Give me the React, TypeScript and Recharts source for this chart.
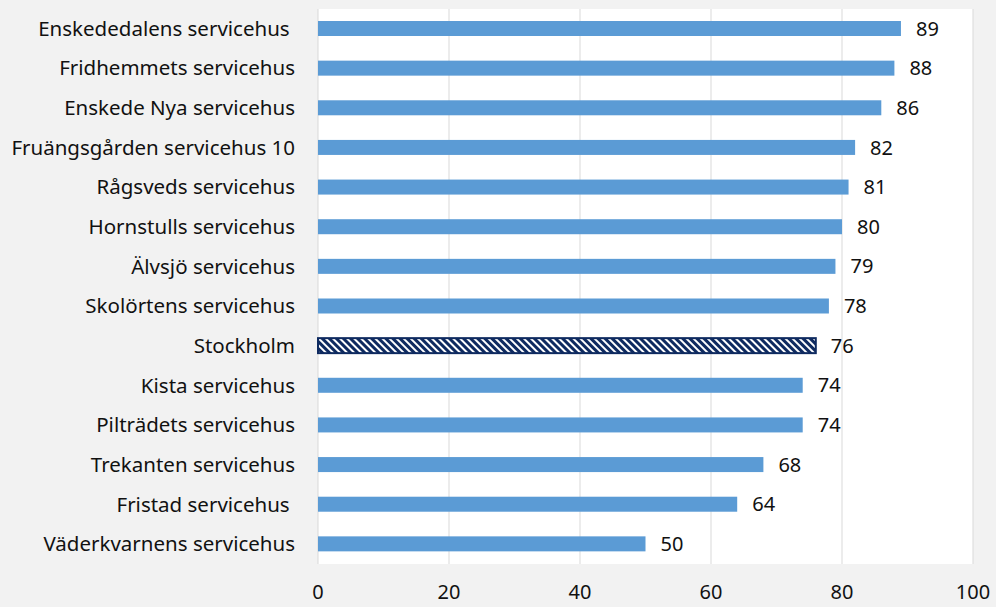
import { BarChart, Bar, XAxis, YAxis, CartesianGrid, LabelList, Cell } from "recharts";

const names = [
  "Enskededalens servicehus ",
  "Fridhemmets servicehus",
  "Enskede Nya servicehus",
  "Fruängsgården servicehus 10",
  "Rågsveds servicehus",
  "Hornstulls servicehus",
  "Älvsjö servicehus",
  "Skolörtens servicehus",
  "Stockholm",
  "Kista servicehus",
  "Pilträdets servicehus",
  "Trekanten servicehus",
  "Fristad servicehus ",
  "Väderkvarnens servicehus",
];
const values = [89, 88, 86, 82, 81, 80, 79, 78, 76, 74, 74, 68, 64, 50];
const xTicks = [0, 20, 40, 60, 80, 100];
const highlight = "Stockholm";

const data = names.map((name, i) => ({ name, value: values[i] }));

const FONT = "'Noto Sans', sans-serif";

function NameTick({ x, y, payload }: any) {
  return (
    <text
      x={x}
      y={y}
      dy={7}
      textAnchor="end"
      fontSize={20.5}
      fontFamily={FONT}
      fill="#111"
      style={{ whiteSpace: "pre" }}
    >
      {payload.value}
    </text>
  );
}

function BarShape(props: any) {
  const { x, y, width, height, payload } = props;
  if (payload.name !== highlight) {
    return <rect x={x} y={y} width={width} height={height} fill="#5b9bd5" />;
  }
  return (
    <g>
      <defs>
        <pattern id="hatch" width="5" height="5" patternUnits="userSpaceOnUse" patternTransform="rotate(-45)">
          <rect width="5" height="5" fill="#0e2a60" />
          <rect width="2" height="5" fill="#fff" />
        </pattern>
      </defs>
      <rect x={x} y={y} width={width} height={height} fill="url(#hatch)" stroke="#0e2a60" strokeWidth={2} />
    </g>
  );
}

export default function App() {
  return (
    <div style={{ position: "absolute", top: 0, left: 0, width: 996, height: 607, background: "#f2f2f2" }}>
      <BarChart
        width={996}
        height={607}
        data={data}
        layout="vertical"
        margin={{ top: 9, right: 23, bottom: 0, left: 0 }}
        barCategoryGap="30%"
      >
        <CartesianGrid horizontal={false} stroke="#d9d9d9" fill="#ffffff" />
        <XAxis
          type="number"
          domain={[0, 100]}
          ticks={xTicks}
          axisLine={false}
          tickLine={false}
          tick={{ fontSize: 20, fontFamily: FONT, fill: "#111" }}
          tickMargin={15}
          height={43}
        />
        <YAxis
          type="category"
          dataKey="name"
          width={318}
          axisLine={false}
          tickLine={false}
          tick={<NameTick />}
          tickMargin={17}
          interval={0}
        />
        <Bar dataKey="value" barSize={15} shape={<BarShape />} isAnimationActive={false}>
          {data.map((d) => (
            <Cell key={d.name} />
          ))}
          <LabelList dataKey="value" position="right" offset={15} fontSize={20} fontFamily={FONT} fill="#111" />
        </Bar>
      </BarChart>
    </div>
  );
}
